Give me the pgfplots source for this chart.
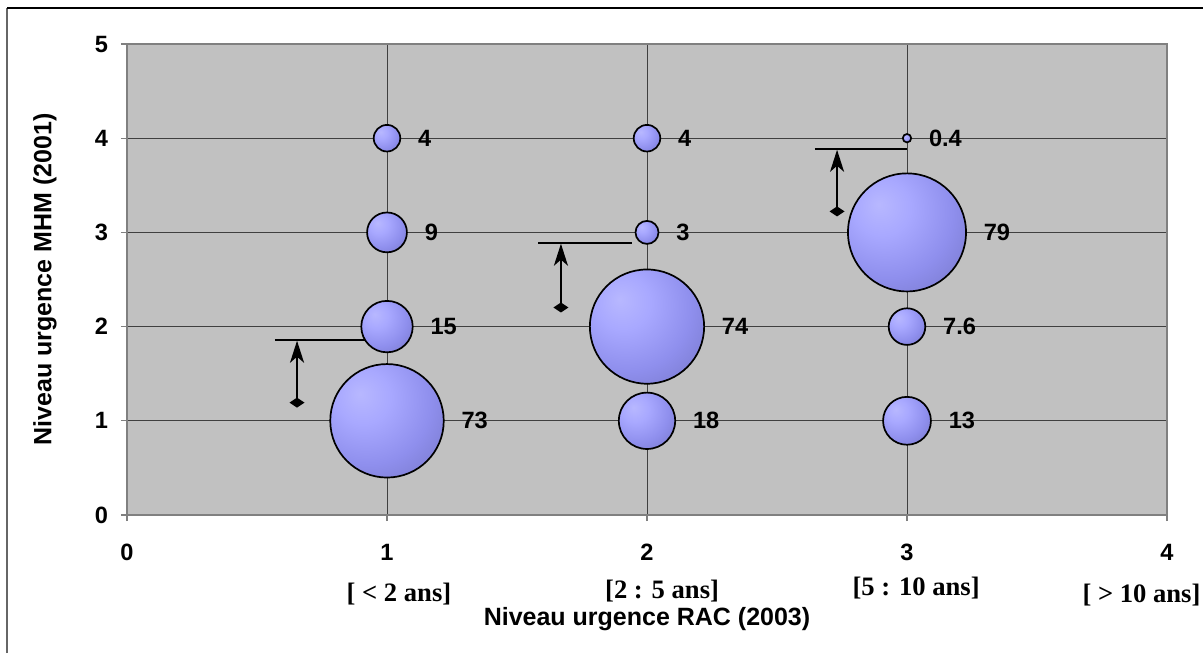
\documentclass[border=0pt]{standalone}
\usepackage{pgfplots}
\pgfplotsset{compat=1.18}
\usepackage{fontspec}
\setmainfont{Liberation Sans}
\newfontfamily\timesf{Liberation Serif}
\usetikzlibrary{arrows.meta}

\pgfdeclareradialshading{bubbleshade}{\pgfpoint{-12bp}{12bp}}{%
  rgb(0bp)=(0.72,0.72,1);
  rgb(12bp)=(0.66,0.66,1);
  rgb(28bp)=(0.56,0.56,0.93);
  rgb(45bp)=(0.46,0.46,0.78);
  rgb(60bp)=(0.39,0.39,0.66);
  rgb(100bp)=(0.36,0.36,0.62)}

\pgfdeclareplotmark{bubble}{%
  \pgfpathcircle{\pgfpointorigin}{\pgfplotmarksize}%
  \pgfshadepath{bubbleshade}{0}%
  \pgfusepath{discard}%
  \pgfpathcircle{\pgfpointorigin}{\pgfplotmarksize}%
  \pgfusepathqstroke}

% #1 x, #2 y, #3 value (label), #4 radius in pt (3.32*sqrt(value))
\newcommand{\bubbleplot}[4]{%
  \addplot[only marks, mark=bubble, draw=black, mark size=#4pt,
    mark options={line width=0.85pt},
    point meta=explicit symbolic,
    nodes near coords,
    every node near coord/.append style={anchor=west, xshift=#4pt+7.5pt,
      font=\bfseries\fontsize{11.8}{13}\selectfont, text=black, inner sep=1pt}]
    coordinates {(#1,#2) [#3]};}

\begin{document}
\begin{tikzpicture}
\useasboundingbox (0,0) rectangle (601.5pt,326.5pt);
\draw[black!60, line width=1pt] (3.5pt,0) -- (3.5pt,322.5pt);
\draw[black, line width=1pt] (3.5pt,322.5pt) -- (601.5pt,322.5pt);
\begin{axis}[
  at={(63.5pt,69pt)}, anchor=south west,
  scale only axis, width=520pt, height=235.5pt,
  xmin=0, xmax=4, ymin=0, ymax=5,
  xtick={0,1,2,3,4}, ytick={0,1,2,3,4,5},
  axis background/.style={fill=black!24.5},
  axis line style={black!50, line width=0.9pt},
  grid=major, major grid style={black!75, line width=0.5pt},
  tick align=outside, xtick pos=bottom, ytick pos=left,
  major tick length=3pt,
  tick style={black!50, line width=0.6pt},
  /pgf/number format/assume math mode=true,
  ticklabel style={font=\bfseries\fontsize{11.8}{13}\selectfont},
  xticklabel style={yshift=-8pt},
  yticklabel style={xshift=-3pt},
  xlabel={Niveau urgence RAC (2003)},
  ylabel={Niveau urgence MHM (2001)},
  label style={font=\bfseries\fontsize{12.5}{14}\selectfont},
  xlabel style={at={(axis description cs:0.5,-0.222)}, anchor=center},
  ylabel style={at={(axis description cs:-0.0788,0.5)}, anchor=center},
  clip=false,
]
\bubbleplot{1}{1}{73}{28.37}
\bubbleplot{1}{2}{15}{12.86}
\bubbleplot{1}{3}{9}{9.96}
\bubbleplot{1}{4}{4}{6.64}
\bubbleplot{2}{1}{18}{14.09}
\bubbleplot{2}{2}{74}{28.56}
\bubbleplot{2}{3}{3}{5.75}
\bubbleplot{2}{4}{4}{6.64}
\bubbleplot{3}{1}{13}{11.97}
\bubbleplot{3}{2}{7.6}{9.15}
\bubbleplot{3}{3}{79}{29.51}
\bubbleplot{3}{4}{0.4}{2.10}

% annotation lines and arrows
\addplot[black, line width=1pt, forget plot] coordinates {(0.569,1.858) (0.925,1.858)};
\addplot[black, line width=1pt, forget plot, {Diamond[length=5pt,width=7.5pt]}-{Stealth[length=11pt,width=7pt,inset=3pt]}] coordinates {(0.654,1.14) (0.654,1.85)};
\addplot[black, line width=1pt, forget plot] coordinates {(1.581,2.888) (1.942,2.888)};
\addplot[black, line width=1pt, forget plot, {Diamond[length=5pt,width=7.5pt]}-{Stealth[length=11pt,width=7pt,inset=3pt]}] coordinates {(1.669,2.15) (1.669,2.88)};
\addplot[black, line width=1pt, forget plot] coordinates {(2.646,3.885) (3.0,3.885)};
\addplot[black, line width=1pt, forget plot, {Diamond[length=5pt,width=7.5pt]}-{Stealth[length=11pt,width=7pt,inset=3pt]}] coordinates {(2.731,3.17) (2.731,3.877)};

\node[font=\timesf\bfseries\fontsize{13.3}{15}\selectfont] at (axis cs:1.046,-0.835) {[ < 2 ans]};
\node[font=\timesf\bfseries\fontsize{13.3}{15}\selectfont] at (axis cs:2.058,-0.81) {[2 : 5 ans]};
\node[font=\timesf\bfseries\fontsize{13.3}{15}\selectfont] at (axis cs:3.035,-0.775) {[5 : 10 ans]};
\node[font=\timesf\bfseries\fontsize{13.3}{15}\selectfont] at (axis cs:3.902,-0.85) {[ > 10 ans]};
\end{axis}
\end{tikzpicture}
\end{document}
